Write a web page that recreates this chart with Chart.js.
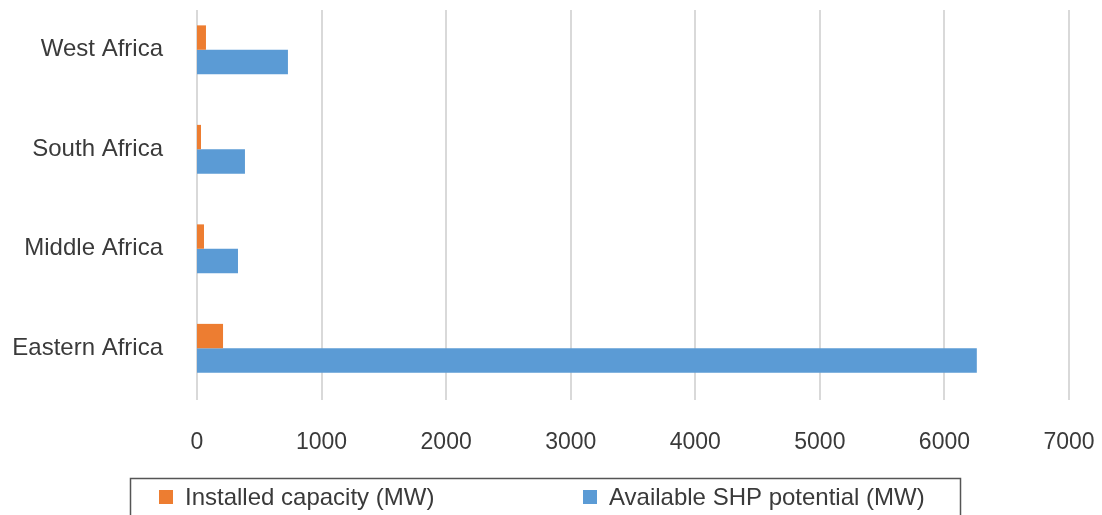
<!DOCTYPE html>
<html>
<head>
<meta charset="utf-8">
<script src="https://cdn.jsdelivr.net/npm/chart.js@4"></script>
<style>
  html, body { margin: 0; padding: 0; background: #fff; }
  #wrap { width: 1102px; height: 515px; position: relative; }
</style>
</head>
<body>
<div id="wrap"><canvas id="c" width="1102" height="515"></canvas></div>
<script>
const categories = ["West Africa", "South Africa", "Middle Africa", "Eastern Africa"];
const installedCapacity = [72, 32, 56, 209];
const availablePotential = [730, 385, 329, 6260];
const seriesNames = ["Installed capacity (MW)", "Available SHP potential (MW)"];
const xTicks = [0, 1000, 2000, 3000, 4000, 5000, 6000, 7000];

const FONT = "'Liberation Sans', Arial, sans-serif";
const TEXT = "#3a3a3a";

const gridPlugin = {
  id: 'customGrid',
  beforeDatasetsDraw(chart) {
    const ctx = chart.ctx, xs = chart.scales.x, a = chart.chartArea;
    ctx.save();
    ctx.strokeStyle = '#d9d9d9';
    ctx.lineWidth = 2;
    xTicks.forEach(v => {
      const px = Math.round(xs.getPixelForValue(v));
      ctx.beginPath();
      ctx.moveTo(px, a.top + 10);
      ctx.lineTo(px, a.bottom + 2);
      ctx.stroke();
    });
    ctx.restore();
  }
};

const legendPlugin = {
  id: 'boxLegend',
  afterDraw(chart) {
    const ctx = chart.ctx;
    ctx.save();
    ctx.strokeStyle = '#555555';
    ctx.lineWidth = 1.5;
    ctx.strokeRect(130.5, 478.5, 830, 60);
    const items = [
      { x: 159, ds: chart.data.datasets[0] },
      { x: 583, ds: chart.data.datasets[1] }
    ];
    ctx.font = "24px " + FONT;
    ctx.textBaseline = 'middle';
    ctx.textAlign = 'left';
    items.forEach(it => {
      ctx.fillStyle = it.ds.backgroundColor;
      ctx.fillRect(it.x, 490, 14, 14);
      ctx.fillStyle = TEXT;
      ctx.fillText(it.ds.label, it.x + 26, 498);
    });
    ctx.restore();
  }
};

new Chart(document.getElementById('c'), {
  type: 'bar',
  data: {
    labels: categories,
    datasets: [
      { label: seriesNames[0], data: installedCapacity, backgroundColor: '#ED7D31' },
      { label: seriesNames[1], data: availablePotential, backgroundColor: '#5B9BD5' }
    ]
  },
  options: {
    indexAxis: 'y',
    responsive: false,
    animation: false,
    layout: { padding: { left: 0, right: 33, top: 0, bottom: 0 } },
    datasets: { bar: { categoryPercentage: 0.49, barPercentage: 1.0 } },
    plugins: { legend: { display: false }, tooltip: { enabled: false } },
    scales: {
      x: {
        min: 0, max: 7000,
        afterBuildTicks(scale) { scale.ticks = xTicks.map(v => ({ value: v })); },
        afterFit(scale) {
          scale.height = 117;
          scale.paddingLeft = 0; scale.paddingRight = 0;
          scale.paddingTop = 0; scale.paddingBottom = 0;
        },
        grid: { display: false },
        border: { display: false },
        ticks: { color: TEXT, font: { family: FONT, size: 23 }, padding: 23, maxRotation: 0,
                 callback: v => String(v) }
      },
      y: {
        afterFit(scale) {
          scale.width = 197;
          scale.paddingTop = 0; scale.paddingBottom = 0;
          scale.paddingLeft = 0; scale.paddingRight = 0;
        },
        grid: { display: false, drawTicks: false },
        border: { display: false },
        ticks: { color: TEXT, font: { family: FONT, size: 24 }, padding: 34 }
      }
    }
  },
  plugins: [gridPlugin, legendPlugin]
});
</script>
</body>
</html>
